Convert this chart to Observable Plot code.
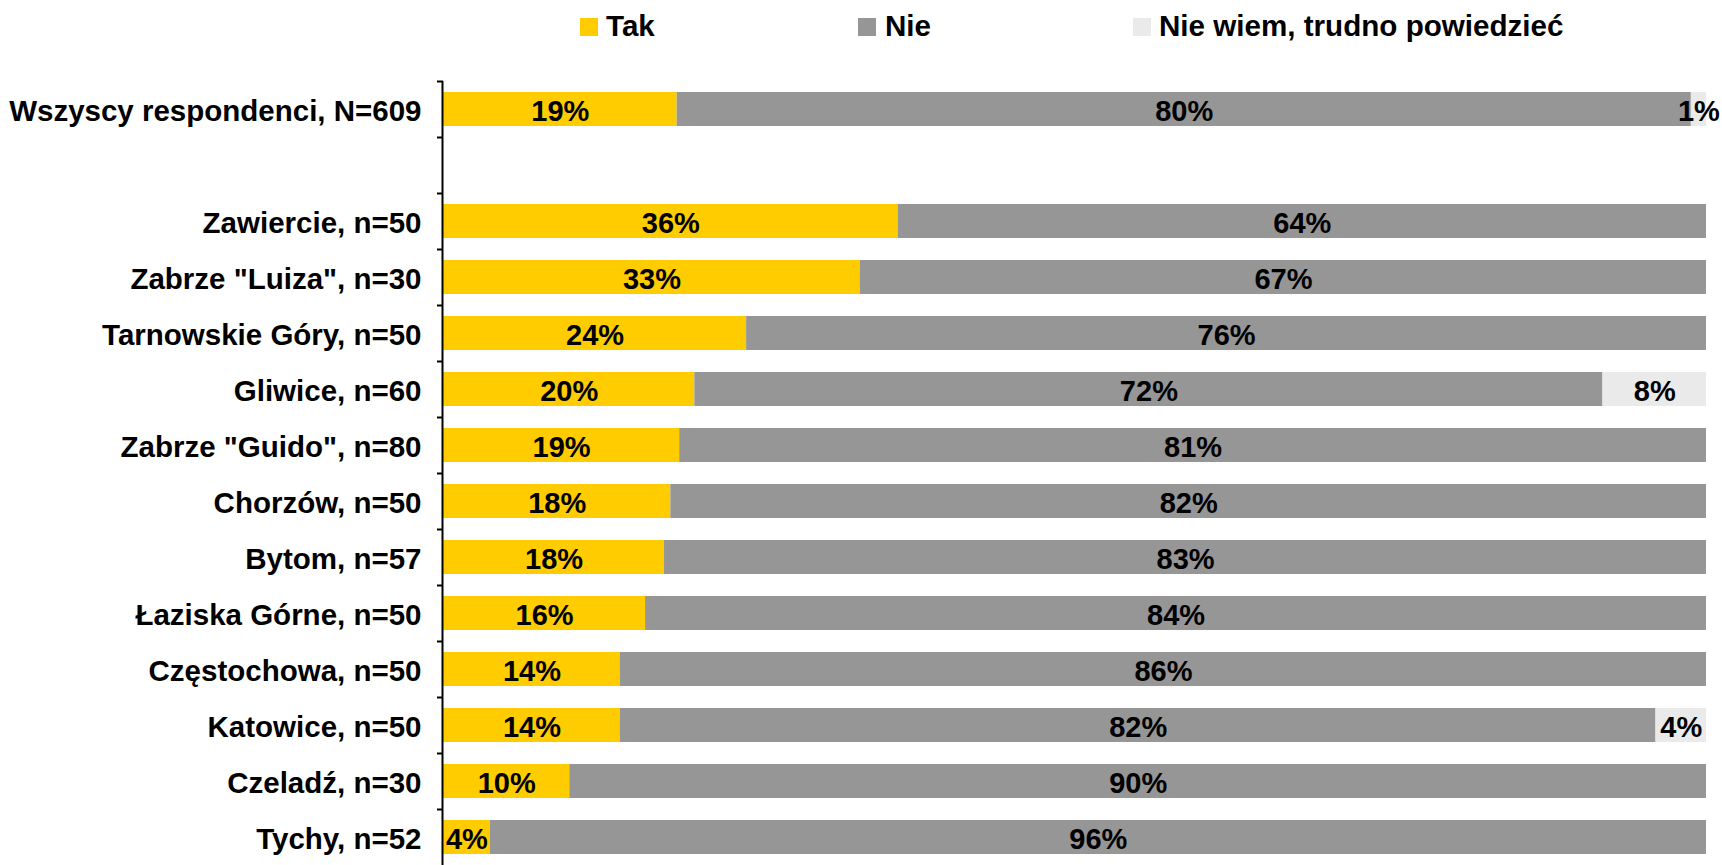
<!DOCTYPE html>
<html>
<head>
<meta charset="utf-8">
<script src="https://cdn.jsdelivr.net/npm/d3@7"></script>
<script src="https://cdn.jsdelivr.net/npm/@observablehq/plot@0.6"></script>
<style>
  html, body { margin: 0; padding: 0; background: #fff; }
  body { width: 1722px; height: 865px; overflow: hidden; font-family: "Liberation Sans", Arial, sans-serif; }
  #legend { position: relative; height: 50px; width: 1722px; }
  #legend .sw { position: absolute; width: 18px; height: 18px; top: 18px; }
  #legend .lb { position: absolute; top: 11px; font-size: 29.6px; line-height: 30px; font-weight: bold; color: #000; white-space: nowrap; }
  #chart svg { display: block; }
</style>
</head>
<body>
<div id="legend"></div>
<div id="chart"></div>
<script>
// ---- data ----
const categories = [
  "Wszyscy respondenci, N=609",
  "Zawiercie, n=50",
  "Zabrze \"Luiza\", n=30",
  "Tarnowskie Góry, n=50",
  "Gliwice, n=60",
  "Zabrze \"Guido\", n=80",
  "Chorzów, n=50",
  "Bytom, n=57",
  "Łaziska Górne, n=50",
  "Częstochowa, n=50",
  "Katowice, n=50",
  "Czeladź, n=30",
  "Tychy, n=52"
];
const series = ["Tak", "Nie", "Nie wiem, trudno powiedzieć"];
const colors = ["#FFCC00", "#969696", "#EAEAEA"];
const tak = [18.5, 36, 33, 24, 19.9, 18.7, 18, 17.5, 16, 14, 14, 10, 3.7];
const nie = [80.3, 64, 67, 76, 71.9, 81.3, 82, 82.5, 84, 86, 82, 90, 96.3];
const dk  = [1.2, 0, 0, 0, 8.2, 0, 0, 0, 0, 0, 4, 0, 0];
const spacer = " ";

// ---- table ----
const values = [tak, nie, dk];
const rows = [];
categories.forEach((c, i) => {
  series.forEach((s, j) => {
    const v = values[j][i];
    if (v > 0) rows.push({cat: c, series: s, value: v, label: Math.round(v) + "%"});
  });
});
const yDomain = [categories[0], spacer, ...categories.slice(1)];

// ---- legend ----
const legendPos = [[580, 606], [858, 885], [1133, 1159]];
const legend = document.getElementById("legend");
series.forEach((s, j) => {
  const sw = document.createElement("div");
  sw.className = "sw";
  sw.style.left = legendPos[j][0] + "px";
  sw.style.background = colors[j];
  legend.appendChild(sw);
  const lb = document.createElement("div");
  lb.className = "lb";
  lb.style.left = legendPos[j][1] + "px";
  lb.textContent = s;
  legend.appendChild(lb);
});

// ---- chart ----
const font = "'Liberation Sans', Arial, sans-serif";
const chart = Plot.plot({
  width: 1722,
  height: 815,
  marginTop: 31,
  marginBottom: 0,
  marginLeft: 443,
  marginRight: 16,
  style: {fontFamily: font, fontSize: "29px", fontWeight: "bold", color: "#000", background: "#fff"},
  x: {domain: [0, 100], axis: null},
  y: {domain: yDomain, paddingInner: 0.393, paddingOuter: 0.1965, label: null},
  color: {domain: series, range: colors},
  marks: [
    Plot.barX(rows, Plot.stackX({x: "value", y: "cat", fill: "series", order: null})),
    Plot.text(rows, Plot.stackX({x: "value", y: "cat", z: "series", text: "label", order: null,
      fontSize: 29, fontWeight: "bold", fill: "#000", dy: 2})),
    Plot.axisY({anchor: "left", tickSize: 6, tickFormat: () => "", dy: -28, strokeWidth: 2, stroke: "#000"}),
    Plot.axisY({anchor: "left", tickSize: 0, tickPadding: 22, fontSize: 29.5, fontWeight: "bold", fill: "#000", dy: 2,
      tickFormat: d => d}),
    Plot.ruleX([0], {dx: -1, strokeWidth: 2, stroke: "#000"})
  ]
});
document.getElementById("chart").appendChild(chart);
</script>
</body>
</html>
